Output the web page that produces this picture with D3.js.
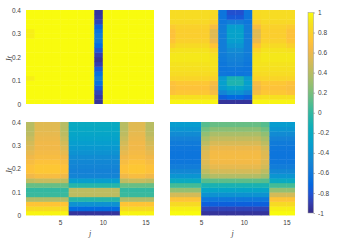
<!DOCTYPE html>
<html>
<head>
<meta charset="utf-8">
<script src="https://cdn.jsdelivr.net/npm/d3@7"></script>
<style>
  body { margin: 0; background: #fff; }
  text { font-family: "Liberation Sans", Arial, sans-serif; fill: #404040; }
</style>
</head>
<body>
<svg width="337" height="240"></svg>
<script>
// site index j (left edge of each cell) and time Jt (bottom edge of each row)
const sites = [1, 2, 3, 4, 5, 6, 7, 8, 9, 10, 11, 12, 13, 14, 15];
const times = [0, 0.02, 0.04, 0.06, 0.08, 0.1, 0.12, 0.14, 0.16, 0.18,
               0.2, 0.22, 0.24, 0.26, 0.28, 0.3, 0.32, 0.34, 0.36, 0.38];
const dt = 0.02;

const jtTicks = [0, 0.1, 0.2, 0.3, 0.4];
const jTicks = [5, 10, 15];
const cbTicks = [-1, -0.8, -0.6, -0.4, -0.2, 0, 0.2, 0.4, 0.6, 0.8, 1];

// each panel: which profile every column uses, then the profiles (bottom row first)
// top left
const colsA = [2, 0, 0, 0, 0, 0, 0, 0, 1, 0, 0, 0, 0, 0, 0];
const a0 = [1, 1, 1, 1, 1, 1, 1, 1, 1, 1, 1, 1, 1, 1, 1, 1, 1, 1, 1, 1];
const a1 = [-0.95, -0.93, -0.88, -0.78, -0.64, -0.55, -0.64, -0.78, -0.9, -0.95,
            -0.9, -0.8, -0.68, -0.58, -0.55, -0.62, -0.75, -0.87, -0.93, -0.95];
const a2 = [1, 1, 1, 1, 1, 0.95, 1, 1, 1, 1, 1, 1, 1, 1, 0.95, 0.95, 1, 1, 1, 1];

// top right
const colsB = [2, 0, 0, 0, 0, 3, 4, 1, 1, 4, 3, 0, 0, 0, 2];
const b0 = [0.97, 0.88, 0.74, 0.7, 0.74, 0.82, 0.86, 0.88, 0.9, 0.92,
            0.92, 0.9, 0.85, 0.8, 0.78, 0.78, 0.8, 0.84, 0.86, 0.86];
const b1 = [-0.95, -0.7, -0.4, -0.25, -0.08, -0.1, -0.62, -0.6, -0.55, -0.52,
            -0.5, -0.45, -0.38, -0.32, -0.28, -0.28, -0.32, -0.55, -0.78, -0.82];
const b2 = [0.97, 0.88, 0.7, 0.68, 0.7, 0.82, 0.86, 0.88, 0.9, 0.92,
            0.92, 0.88, 0.8, 0.72, 0.7, 0.7, 0.76, 0.84, 0.86, 0.86];
const b3 = [0.97, 0.86, 0.66, 0.62, 0.66, 0.8, 0.85, 0.88, 0.9, 0.9,
            0.88, 0.82, 0.72, 0.6, 0.55, 0.55, 0.66, 0.78, 0.84, 0.85];
const b4 = [-0.95, -0.75, -0.5, -0.35, -0.3, -0.35, -0.6, -0.62, -0.6, -0.58,
            -0.56, -0.55, -0.55, -0.55, -0.55, -0.55, -0.56, -0.6, -0.62, -0.62];

// bottom left
const colsC = [2, 0, 0, 0, 2, 1, 1, 1, 1, 1, 1, 2, 0, 0, 2];
const c0 = [0.97, 0.85, 0.72, 0.38, 0.02, 0, 0.15, 0.45, 0.66, 0.74,
            0.74, 0.7, 0.66, 0.64, 0.62, 0.62, 0.6, 0.58, 0.56, 0.55];
const c1 = [-0.95, -0.7, -0.4, -0.05, 0.42, 0.42, -0.05, -0.32, -0.5, -0.52,
            -0.5, -0.48, -0.44, -0.4, -0.36, -0.32, -0.28, -0.25, -0.22, -0.2];
const c2 = [0.97, 0.85, 0.72, 0.38, 0.02, 0, 0.15, 0.42, 0.62, 0.7,
            0.7, 0.66, 0.62, 0.58, 0.54, 0.5, 0.46, 0.42, 0.4, 0.4];

// bottom right
const colsD = [0, 0, 0, 0, 2, 1, 1, 1, 1, 1, 1, 2, 0, 0, 0];
const d0 = [1, 0.95, 0.85, 0.72, 0.5, 0.28, 0.05, -0.2, -0.38, -0.48,
            -0.55, -0.6, -0.62, -0.62, -0.6, -0.57, -0.52, -0.45, -0.38, -0.33];
const d1 = [-0.95, -0.88, -0.75, -0.6, -0.4, -0.25, -0.1, 0.12, 0.38, 0.5,
            0.58, 0.63, 0.65, 0.64, 0.6, 0.52, 0.44, 0.35, 0.25, 0.15];
const d2 = [-0.95, -0.88, -0.75, -0.6, -0.4, -0.25, -0.1, 0.1, 0.32, 0.42,
            0.5, 0.54, 0.55, 0.54, 0.5, 0.42, 0.35, 0.27, 0.18, 0.1];

// parula, every third entry of the 64 colour table
const parula = [
  [0.2081, 0.1663, 0.5292], [0.2081, 0.2386, 0.6771], [0.1253, 0.3242, 0.8303],
  [0.0060, 0.4086, 0.8828], [0.0498, 0.4586, 0.8641], [0.0779, 0.5040, 0.8384],
  [0.0641, 0.5570, 0.8240], [0.0265, 0.6137, 0.8135], [0.0228, 0.6535, 0.7768],
  [0.0590, 0.6838, 0.7254], [0.1453, 0.7098, 0.6646], [0.2586, 0.7317, 0.5954],
  [0.3953, 0.7459, 0.5244], [0.5300, 0.7491, 0.4661], [0.6473, 0.7456, 0.4188],
  [0.7525, 0.7384, 0.3768], [0.8507, 0.7299, 0.3360], [0.9450, 0.7261, 0.2886],
  [0.9990, 0.7653, 0.2164], [0.9789, 0.8271, 0.1633], [0.9589, 0.8949, 0.1132],
  [0.9763, 0.9831, 0.0538]
].map(c => d3.rgb(c[0] * 255, c[1] * 255, c[2] * 255));

const color = d3.scaleSequential(d3.piecewise(d3.interpolateRgb, parula)).domain([-1, 1]);

const svg = d3.select("svg");

const panels = [
  { cols: colsA, rows: [a0, a1, a2], x0: 26, x1: 154, y0: 10, y1: 104, xmin: 1, yLab: true, xLab: false },
  { cols: colsB, rows: [b0, b1, b2, b3, b4], x0: 170, x1: 295, y0: 10, y1: 104, xmin: 1.35, yLab: false, xLab: false },
  { cols: colsC, rows: [c0, c1, c2], x0: 26, x1: 154, y0: 122, y1: 215.5, xmin: 1, yLab: true, xLab: true },
  { cols: colsD, rows: [d0, d1, d2], x0: 170, x1: 295, y0: 122, y1: 215.5, xmin: 1.35, yLab: false, xLab: true }
];

panels.forEach((p, pi) => {
  const x = d3.scaleLinear().domain([p.xmin, 16]).range([p.x0, p.x1]);
  const y = d3.scaleLinear().domain([0, 0.4]).range([p.y1, p.y0]);

  svg.append("clipPath").attr("id", "clip" + pi)
    .append("rect")
    .attr("x", p.x0).attr("y", p.y0)
    .attr("width", p.x1 - p.x0).attr("height", p.y1 - p.y0);

  const cells = [];
  sites.forEach((j, ci) => {
    times.forEach((t, ri) => {
      cells.push({ j: j, t: t, v: p.rows[p.cols[ci]][ri] });
    });
  });

  svg.append("g").attr("clip-path", "url(#clip" + pi + ")")
    .selectAll("rect")
    .data(cells)
    .enter()
    .append("rect")
    .attr("x", d => x(d.j))
    .attr("y", d => y(d.t + dt))
    .attr("width", d => x(d.j + 1) - x(d.j) + 0.4)
    .attr("height", d => y(d.t) - y(d.t + dt) + 0.4)
    .attr("fill", d => color(d.v));

  if (p.yLab) {
    const ax = svg.append("g")
      .attr("transform", "translate(" + p.x0 + ",0)")
      .call(d3.axisLeft(y).tickValues(jtTicks).tickSize(0).tickPadding(5)
        .tickFormat(d => String(d)));
    ax.select(".domain").remove();
    ax.selectAll("text").style("font-size", "6.5px").attr("fill", "#404040");

    svg.append("text")
      .attr("transform", "translate(12," + ((p.y0 + p.y1) / 2 + 2) + ") rotate(-90)")
      .attr("text-anchor", "middle")
      .style("font-family", "'Liberation Serif', serif")
      .style("font-style", "italic")
      .style("font-size", "8px")
      .text("Jt");
  }

  if (p.xLab) {
    const ax = svg.append("g")
      .attr("transform", "translate(0," + p.y1 + ")")
      .call(d3.axisBottom(x).tickValues(jTicks).tickSize(0).tickPadding(5));
    ax.select(".domain").remove();
    ax.selectAll("text").style("font-size", "6.5px").attr("fill", "#404040");

    svg.append("text")
      .attr("x", (p.x0 + p.x1) / 2)
      .attr("y", 236)
      .attr("text-anchor", "middle")
      .style("font-family", "'Liberation Serif', serif")
      .style("font-style", "italic")
      .style("font-size", "8px")
      .text("j");
  }
});

// colour bar
const cb = d3.scaleLinear().domain([-1, 1]).range([213, 12.5]);
const grad = svg.append("defs").append("linearGradient")
  .attr("id", "cbgrad").attr("x1", 0).attr("x2", 0).attr("y1", 1).attr("y2", 0);
grad.selectAll("stop")
  .data(parula)
  .enter()
  .append("stop")
  .attr("offset", (d, i) => i / (parula.length - 1))
  .attr("stop-color", d => d);

svg.append("rect")
  .attr("x", 308).attr("y", cb(1))
  .attr("width", 5.5).attr("height", cb(-1) - cb(1))
  .attr("fill", "url(#cbgrad)")
  .attr("stroke", "#9a9a9a").attr("stroke-width", 0.5);

const cax = svg.append("g")
  .attr("transform", "translate(313.5,0)")
  .call(d3.axisRight(cb).tickValues(cbTicks).tickSize(1.5).tickPadding(3)
    .tickFormat(d => String(Math.round(d * 10) / 10)));
cax.select(".domain").remove();
cax.selectAll("line").attr("stroke", "#666").attr("stroke-width", 0.5);
cax.selectAll("text").style("font-size", "6.5px").attr("fill", "#404040");
</script>
</body>
</html>
